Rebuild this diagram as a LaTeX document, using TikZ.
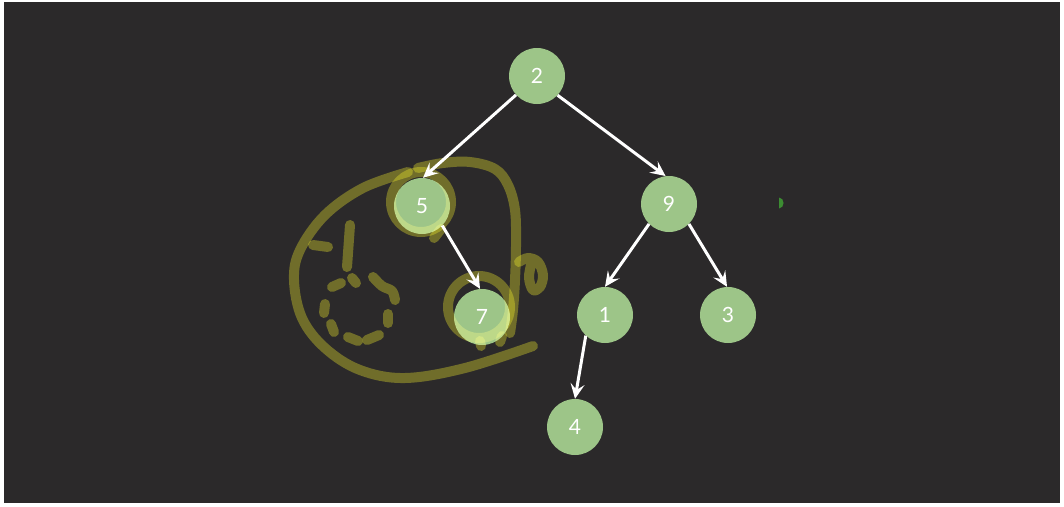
\documentclass[tikz,border=0pt]{standalone}
\usepackage{fontspec}
\setmainfont{Lato}
\usetikzlibrary{arrows.meta}
\definecolor{bg}{RGB}{43,41,42}
\definecolor{nodegreen}{RGB}{157,197,136}
\definecolor{anno}{RGB}{82,80,0}
\definecolor{dotgreen}{RGB}{60,140,50}
\begin{document}
\begin{tikzpicture}[x=1pt,y=-1pt,
  tnode/.style={circle,fill=nodegreen,minimum size=56pt,inner sep=0pt,text=white,font=\fontsize{21}{21}\selectfont},
  edge/.style={draw=white,line width=3pt,-{Stealth[length=15pt,width=14pt,inset=6pt]}},
  pen/.style={draw=anno,line width=10pt,line cap=round,line join=round,blend mode=screen}]
\useasboundingbox (0,0) rectangle (1064,506);
\fill[white] (0,0) rectangle (1064,506);
\fill[bg] (4,2) rectangle (1060,503);
% tree nodes
\node[tnode] (n2) at (537,76) {2};
\node[tnode] (n5) at (422,206) {5};
\node[tnode] (n9) at (669,204) {9};
\node[tnode] (n7) at (482,317) {7};
\node[tnode] (n1) at (605,315) {1};
\node[tnode] (n3) at (728,315) {3};
\node[tnode] (n4) at (575,427) {4};
% edges
\draw[edge] (n2.222) -- (n5.88);
\draw[edge] (n2.317) -- (n9.97);
\draw[edge] (n5.316) -- (n7.94);
\draw[edge] (n9.225) -- (n1.90);
\draw[edge] (n9.315) -- (n3.92);
\draw[edge] (n1.227) -- (n4.90);
% small green dot
\fill[dotgreen] (779,197.5) .. controls (785,198) and (785,208) .. (779,208.5) -- cycle;
% hand-drawn annotations
\draw[pen] plot[smooth,tension=0.6] coordinates {(408,172) (363,188) (325,215) (300,250) (294,280) (302,318) (325,348) (360,370) (405,378) (465,368) (533,346)};
\draw[pen] plot[smooth,tension=0.6] coordinates {(418,168) (443,163) (470,162) (495,169) (508,185) (515,210) (516,245) (515,280) (513,310) (510,333)};
\draw[pen] plot[smooth,tension=0.6] coordinates {(519,262) (528,258) (538,262) (543,275) (540,287) (533,290) (529,278) (531,265)};
\draw[pen] (421,202) circle[radius=30];
\draw[pen] (434,238) -- (441,229);
\draw[pen] (479,307) circle[radius=31];
\draw[pen] (480,341) -- (481,346);
\draw[pen] (502,336) -- (500,342);
\draw[pen] (313,245) -- (328,247);
\draw[pen] (350,225) -- (347,267);
\draw[pen] (332,287) -- (341,283);
\draw[pen] (352,278) -- (356,283);
\draw[pen] plot[smooth,tension=0.6] coordinates {(373,277) (382,286) (392,291) (395,300)};
\draw[pen] (325,304) -- (324,313);
\draw[pen] (331,324) -- (334,332);
\draw[pen] (348,337) -- (358,341);
\draw[pen] (367,340) -- (379,335);
\draw[pen] (388,314) -- (388,323);
\end{tikzpicture}
\end{document}
